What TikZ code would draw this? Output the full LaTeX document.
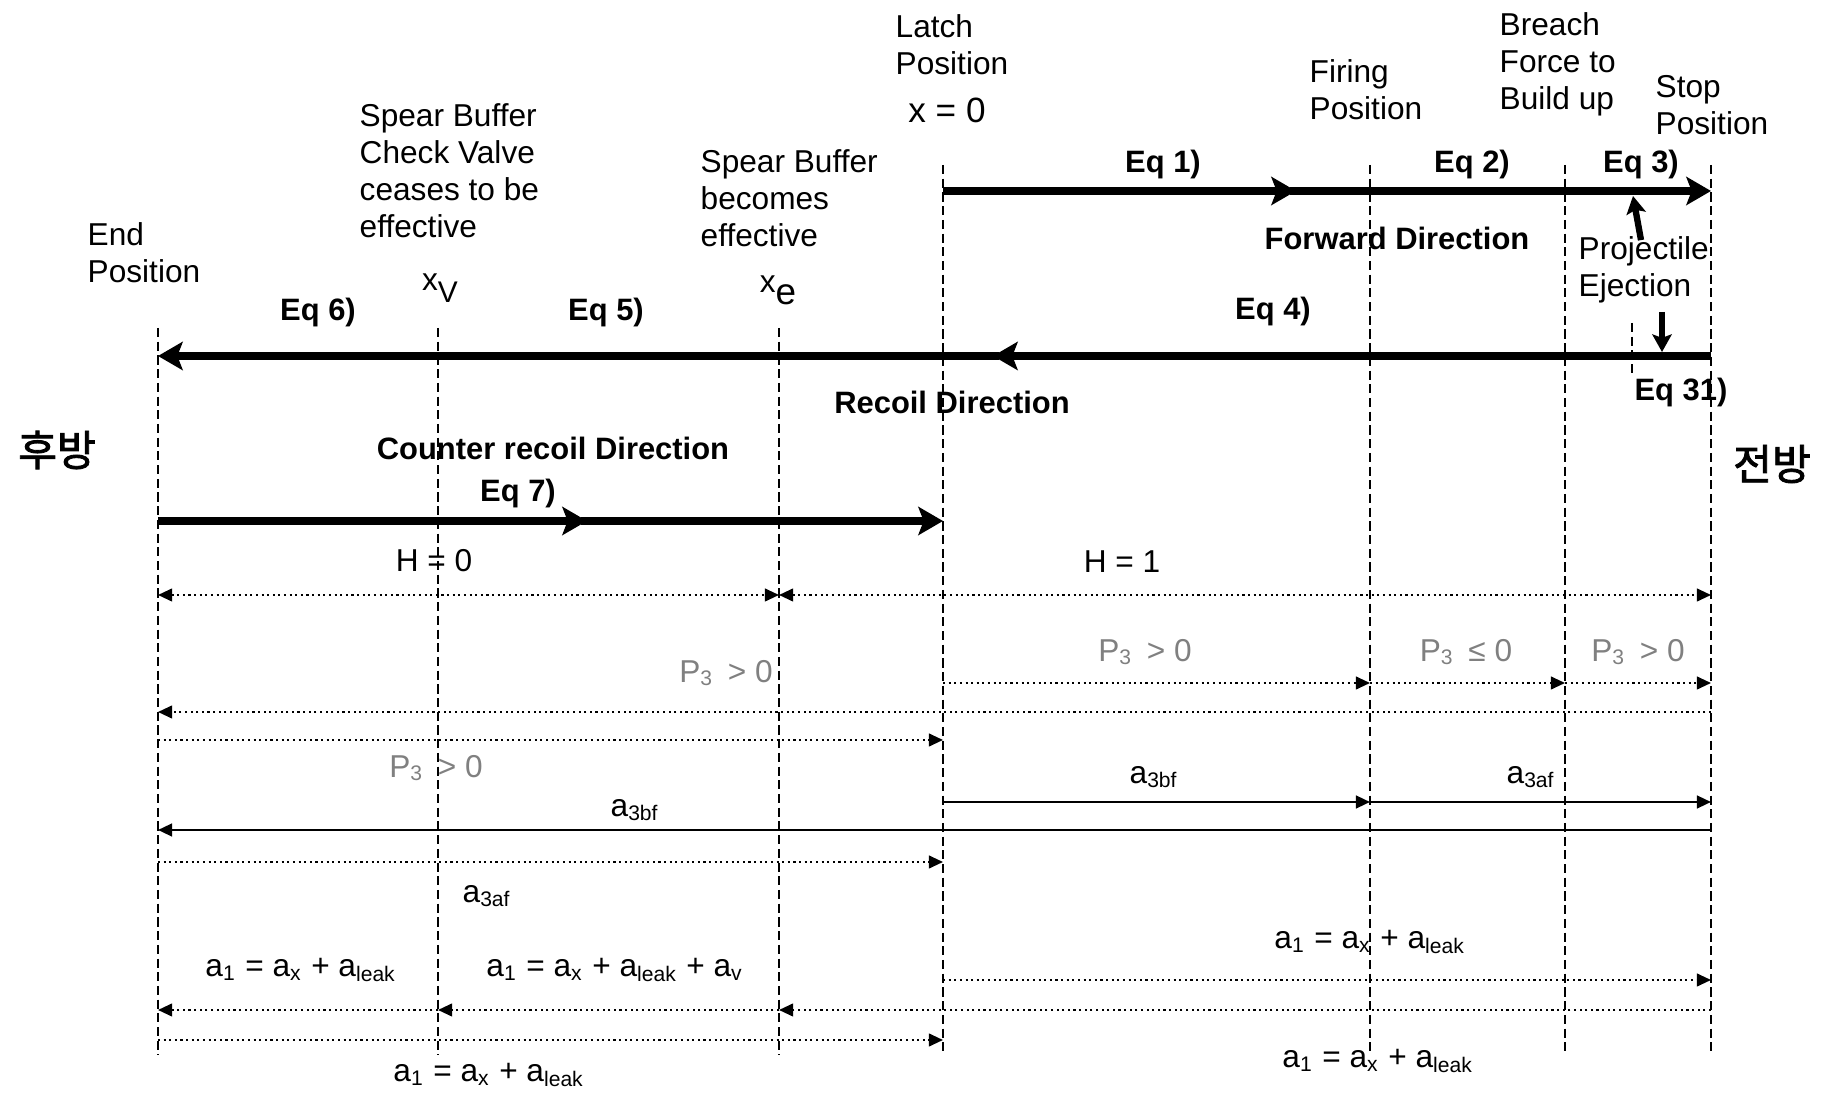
\documentclass[tikz,border=0pt]{standalone}
\usepackage{fontspec}
\setmainfont{Liberation Sans}
\newfontfamily\kfont[FakeBold=2]{Noto Sans CJK KR}
\usetikzlibrary{arrows.meta}

% position columns (picture units = reference pixels)
\def\colEnd{158}
\def\colXv{438}
\def\colXe{779}
\def\colLatch{943}
\def\colFire{1370}
\def\colBreach{1565}
\def\colStop{1711}

\tikzset{
  posline/.style={line width=0.7pt, dash pattern=on 2.6pt off 1.3pt},
  mainarrow/.style={line width=2.1pt, -{Stealth[length=7pt,width=8pt,inset=1.5pt]}},
  ejectarrow/.style={line width=1.8pt, -{Stealth[length=5pt,width=5.5pt,inset=1pt]}},
  rangearrow/.style={line width=0.6pt, densely dotted, -{Triangle[length=4pt,width=3.6pt]}},
  rangeboth/.style={line width=0.6pt, densely dotted, {Triangle[length=4pt,width=3.6pt]}-{Triangle[length=4pt,width=3.6pt]}},
  solidarrow/.style={line width=0.7pt, -{Triangle[length=4pt,width=3.6pt]}},
  lbl/.style={font=\fontsize{9}{10.5}\selectfont, align=left, inner sep=0pt, anchor=west},
  eqlbl/.style={font=\fontsize{8.8}{10}\selectfont\bfseries, inner sep=0pt},
  cond/.style={font=\fontsize{9}{10}\selectfont, inner sep=0pt},
  pcond/.style={cond, text=black!50},
  side/.style={font=\fontsize{12}{12}\selectfont\kfont, inner sep=0pt}
}

\begin{document}
\begin{tikzpicture}[x=0.1mm, y=-0.1mm]
    \useasboundingbox (0,0) rectangle (1822,1097);

    % Position lines
    \foreach \c in {\colEnd,\colXv,\colXe}
        \draw[posline] (\c,328) -- (\c,1055);
    \foreach \c in {\colLatch,\colFire,\colBreach,\colStop}
        \draw[posline] (\c,165) -- (\c,1055);
    \draw[posline] (1632,323) -- (1632,373);

    % Position labels
    \node[lbl] (endpos) at (87,253) {End\\Position};
    \node[lbl] (valve) at (359,171) {Spear Buffer\\Check Valve\\ceases to be\\effective};
    \node[lbl] (buffer) at (700,198) {Spear Buffer\\becomes\\effective};
    \node[lbl] (latch) at (895,45) {Latch\\Position};
    \node[cond, font=\fontsize{10}{10}\selectfont] (xzero) at (947,110) {x = 0};
    \node[lbl] (firing) at (1309,90) {Firing\\Position};
    \node[lbl] (breach) at (1499,64) {Breach\\Force to\\Build up};
    \node[lbl] (stop) at (1655,105) {Stop\\Position};
    \node[lbl] (proj) at (1578,270) {Projectile\\Ejection};
    \node[cond] (xv) at (440,288) {x\raisebox{-3.5pt}{\fontsize{8.5}{8.5}\selectfont V}};
    \node[cond] (xe) at (778,290) {x\raisebox{-3.5pt}{\fontsize{10.5}{10.5}\selectfont e}};

    % Rear / front
    \node[side] (rear) at (57,450) {후방};
    \node[side] (front) at (1772,464) {전방};

    % Forward direction
    \draw[mainarrow] (\colLatch,191) -- (1296,191);
    \draw[mainarrow] (1290,191) -- (\colStop,191);
    \node[eqlbl] (eq1) at (1163,165) {Eq 1)};
    \node[eqlbl] (eq2) at (1472,165) {Eq 2)};
    \node[eqlbl] (eq3) at (1641,165) {Eq 3)};
    \node[eqlbl] (fwd) at (1397,238) {Forward Direction};

    % Recoil direction
    \draw[mainarrow] (\colStop,356) -- (993,356);
    \draw[mainarrow] (999,356) -- (\colEnd,356);
    \node[eqlbl] (eq4) at (1273,312) {Eq 4)};
    \node[eqlbl] (eq5) at (606,313) {Eq 5)};
    \node[eqlbl] (eq6) at (318,313) {Eq 6)};
    \node[eqlbl] (eq31) at (1681,393) {Eq 31)};
    \node[eqlbl] (rec) at (952,402) {Recoil Direction};

    % Projectile ejection pointers
    \coordinate (ejUp) at (1633,196);
    \coordinate (ejDown) at (1662,352);
    \draw[ejectarrow] ([yshift=-0.4mm]proj.north -| 1641,0) -- (ejUp);
    \draw[ejectarrow] ([yshift=-0.8mm]proj.south -| ejDown) -- (ejDown);

    % Counter recoil direction
    \draw[mainarrow] (\colEnd,521) -- (587,521);
    \draw[mainarrow] (581,521) -- (\colLatch,521);
    \node[eqlbl] (ctr) at (553,448) {Counter recoil Direction};
    \node[eqlbl] (eq7) at (518,494) {Eq 7)};

    % H
    \draw[rangeboth] (\colEnd,595) -- (\colXe,595);
    \draw[rangeboth] (\colXe,595) -- (\colStop,595);
    \node[cond] (h0) at (434,561) {H = 0};
    \node[cond] (h1) at (1122,562) {H = 1};

    % P3
    \draw[rangearrow] (\colLatch,683) -- (\colFire,683);
    \draw[rangearrow] (\colFire,683) -- (\colBreach,683);
    \draw[rangearrow] (\colBreach,683) -- (\colStop,683);
    \draw[rangearrow] (\colStop,712) -- (\colEnd,712);
    \draw[rangearrow] (\colEnd,740) -- (\colLatch,740);
    \node[pcond] (p1) at (1145,652) {P\textsubscript{3}\, > 0};
    \node[pcond] (p2) at (1466,652) {P\textsubscript{3}\, ≤ 0};
    \node[pcond] (p3) at (1638,652) {P\textsubscript{3}\, > 0};
    \node[pcond] (p4) at (726,673) {P\textsubscript{3}\, > 0};
    \node[pcond] (p5) at (436,768) {P\textsubscript{3}\, > 0};

    % a3
    \draw[solidarrow] (\colLatch,802) -- (\colFire,802);
    \draw[solidarrow] (\colFire,802) -- (\colStop,802);
    \draw[solidarrow] (\colStop,830) -- (\colEnd,830);
    \draw[rangearrow] (\colEnd,862) -- (\colLatch,862);
    \node[cond] (a1bf) at (1154,777) {a\textsubscript{3bf}};
    \node[cond] (a1af) at (1531,777) {a\textsubscript{3af}};
    \node[cond] (a2bf) at (635,810) {a\textsubscript{3bf}};
    \node[cond] (a2af) at (487,896) {a\textsubscript{3af}};

    % a1
    \draw[rangearrow] (\colLatch,980) -- (\colStop,980);
    \draw[rangearrow] (\colStop,1010) -- (\colXe,1010);
    \draw[rangearrow] (\colXe,1010) -- (\colXv,1010);
    \draw[rangearrow] (\colXv,1010) -- (\colEnd,1010);
    \draw[rangearrow] (\colEnd,1040) -- (\colLatch,1040);
    \node[cond] (q1) at (301,970) {a\textsubscript{1} = a\textsubscript{x} + a\textsubscript{leak}};
    \node[cond] (q2) at (615,970) {a\textsubscript{1} = a\textsubscript{x} + a\textsubscript{leak} + a\textsubscript{v}};
    \node[cond] (q3) at (1370,942) {a\textsubscript{1} = a\textsubscript{x} + a\textsubscript{leak}};
    \node[cond] (q4) at (489,1075) {a\textsubscript{1} = a\textsubscript{x} + a\textsubscript{leak}};
    \node[cond] (q5) at (1378,1061) {a\textsubscript{1} = a\textsubscript{x} + a\textsubscript{leak}};
\end{tikzpicture}
\end{document}
